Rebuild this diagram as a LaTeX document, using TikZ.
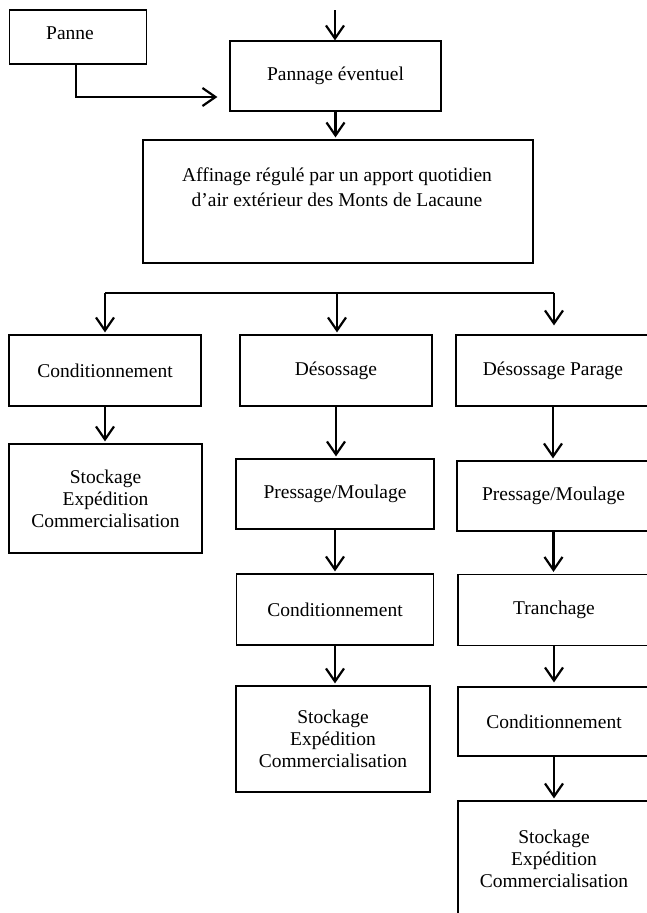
\documentclass[tikz,border=0pt]{standalone}
\usepackage{fontspec}
\setmainfont{Liberation Serif}
\usepackage{tikz}
\usetikzlibrary{arrows.meta,positioning,calc}
\tikzstyle{texte} = [inner sep=0pt,align=center,font=\fontsize{19.5}{22}\selectfont]
\tikzstyle{etape} = [texte,draw,line width=1.2pt]
\tikzstyle{flux} = [line width=2.2pt,arrows={-Straight Barb[length=13pt,width=18pt]}]

\begin{document}
\begin{tikzpicture}[x=1pt,y=-1pt]
                  \useasboundingbox (0,0) rectangle (647,913);
                  \clip (0,0) rectangle (647,913);

                  \node (panne)[etape,minimum width=137pt,minimum height=54pt]  at (78,37) {};
                  \node (pannetxt)[texte]  at (70,33) {Panne};
                  \node (pann)[etape,minimum width=211pt,minimum height=70pt]   at (335.5,76) {Pannage éventuel};
                  \node (aff)[etape,minimum width=390pt,minimum height=123pt]   at (338,201.5) {};
                  \node (afftxt)[texte]  at (337,187.5) {Affinage régulé par un apport quotidien\\[3pt]d’air extérieur des Monts de Lacaune};

                  \node (cond1)[etape,minimum width=192pt,minimum height=71pt]  at (105,370.5) {Conditionnement};
                  \node (stock1)[etape,minimum width=193pt,minimum height=109pt] at (105.5,498.5) {Stockage\\Expédition\\Commercialisation};

                  \node (des)[etape,minimum width=192pt,minimum height=71pt]    at (336,370.5) {Désossage};
                  \node (press1)[etape,minimum width=198pt,minimum height=70pt] at (335,494) {Pressage/Moulage};
                  \node (cond2)[etape,minimum width=197pt,minimum height=71pt]  at (335,609.5) {Conditionnement};
                  \node (stock2)[etape,minimum width=194pt,minimum height=106pt] at (333,739) {Stockage\\Expédition\\Commercialisation};

                  \node (desp)[etape,minimum width=194pt,minimum height=71pt]   at (553,370.5) {Désossage Parage};
                  \node (press2)[etape,minimum width=193pt,minimum height=70pt] at (553.5,496) {Pressage/Moulage};
                  \node (tranch)[etape,minimum width=192pt,minimum height=71pt] at (554,610) {Tranchage};
                  \node (cond3)[etape,minimum width=192pt,minimum height=69pt]  at (554,721.5) {Conditionnement};
                  \node (stock3)[etape,minimum width=192pt,minimum height=116pt] at (554,859) {Stockage\\Expédition\\Commercialisation};

                  \coordinate (haut) at (335,10);
                  \coordinate (coude) at (76,97);
                  \coordinate (bg) at (105,293);
                  \coordinate (bm) at (337,293);
                  \coordinate (bd) at (554,293);

                  \draw[flux] (haut) -- (haut |- pann.north) ;
                  \draw[flux,shorten >=12pt] (panne.south -| coude) |- (coude -| pann.west) ;
                  \draw[flux,shorten >=2pt] (pann) -- (pann |- aff.north) ;

                  \draw[line width=2.2pt] (bg) -- (bd) ;
                  \draw[flux,shorten >=2pt] (bg) -- (bg |- cond1.north) ;
                  \draw[flux,shorten >=2pt] (bm) -- (bm |- des.north) ;
                  \draw[flux,shorten >=9pt] (bd) -- (bd |- desp.north) ;

                  \draw[flux,shorten >=2pt] (cond1) -- (cond1 |- stock1.north) ;
                  \draw[flux,shorten >=2pt] (des) -- (des |- press1.north) ;
                  \draw[flux,shorten >=2pt] (press1) -- (press1 |- cond2.north) ;
                  \draw[flux,shorten >=2pt] (cond2) -- (cond2 |- stock2.north) ;
                  \draw[flux,shorten >=2pt] (desp) -- (desp |- press2.north) ;
                  \draw[flux,shorten >=2pt] (press2) -- (press2 |- tranch.north) ;
                  \draw[flux,shorten >=4pt] (tranch) -- (tranch |- cond3.north) ;
                  \draw[flux,shorten >=2pt] (cond3) -- (cond3 |- stock3.north) ;
            \end{tikzpicture}
\end{document}
